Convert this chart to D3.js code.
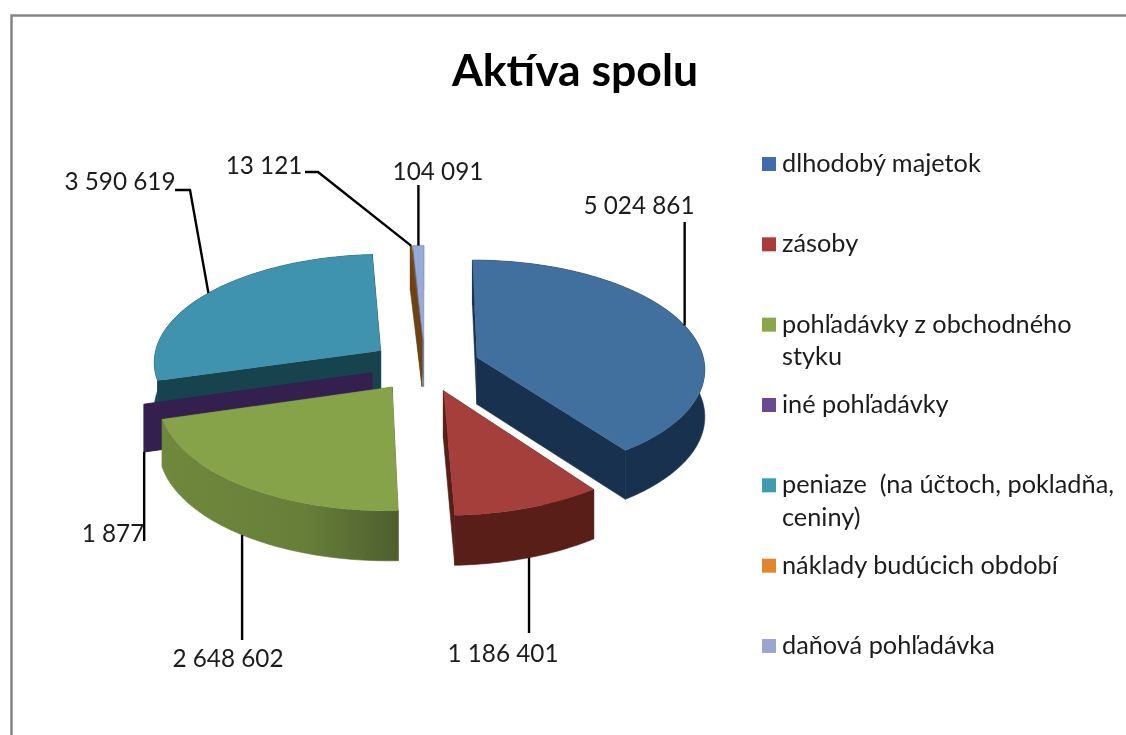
<!DOCTYPE html>
<html>
<head>
<meta charset="utf-8">
<script src="https://cdn.jsdelivr.net/npm/d3@7"></script>
<style>
  html, body { margin: 0; padding: 0; background: #fff; }
  svg { display: block; filter: blur(0.45px); }
  text { font-family: Lato, sans-serif; fill: #1c1c1c; white-space: pre; }
</style>
</head>
<body>
<div id="chart"></div>
<script>
// data
var categories = ["dlhodobý majetok", "zásoby", "pohľadávky z obchodného styku", "iné pohľadávky",
  "peniaze  (na účtoch, pokladňa, ceniny)", "náklady budúcich období", "daňová pohľadávka"];
var values = [5024861, 1186401, 2648602, 1877, 3590619, 13121, 104091];
var valueLabels = ["5 024 861", "1 186 401", "2 648 602", "1 877", "3 590 619", "13 121", "104 091"];
var legendLines = [["dlhodobý majetok"], ["zásoby"], ["pohľadávky z obchodného", "styku"], ["iné pohľadávky"],
  ["peniaze  (na účtoch, pokladňa,", "ceniny)"], ["náklady budúcich období"], ["daňová pohľadávka"]];

var topColors = ["#41709f", "#a43f3c", "#87a34a", "#5f3f86", "#3f93ae", "#7d4f17", "#98aad6"];
var wallColors = ["#18314f", "#5a1e18", "#5f7535", "#33204f", "#17434f", "#6e4212", "#6f83ad"];
var legendColors = ["#3f6cae", "#aa3c3a", "#8aa64a", "#6a4a94", "#3b9cb2", "#e0862f", "#98a6d0"];

// label text centres and the leader's far end, by category
var labelX = [639, 503, 228, 113, 120, 264, 438];
var labelY = [205, 653, 658, 533, 181, 165, 171];
var leaderEnds = [[null, 222], [null, 633], [null, 640], [null, 541], [175, 190, 190, 190], [305, 172, 318, 172], [null, 185]];

var width = 1126, height = 735;
var cx = 425, cy = 365.5, depth = 47, explode = 0.241, persp = 0.094;

var xScale = d3.scaleLinear().domain([0, 1]).range([0, 228]);
var yScale = d3.scaleLinear().domain([0, 1]).range([0, 108]);
var legendY = d3.scalePoint().domain(categories).range([164, 646]);

var slices = d3.pie().sort(null)(values);
slices.forEach(function(d, i) { d.index = i; d.mid = (d.startAngle + d.endAngle) / 2; });

// pie plane -> screen, r in radius units, z 0 = top face, 1 = bottom
function project(d, angle, r, z) {
  var X = r * Math.sin(angle) + explode * Math.sin(d.mid);
  var Y = -r * Math.cos(angle) - explode * Math.cos(d.mid);
  var s = 1 / (1 - persp * Y);
  return [cx + xScale(X) * s, cy + yScale(Y) * s + depth * Math.sqrt(s) * z];
}

function arcPoints(d, z) {
  var n = Math.max(2, Math.ceil((d.endAngle - d.startAngle) / 0.02));
  return d3.range(n + 1).map(function(i) {
    return project(d, d.startAngle + (d.endAngle - d.startAngle) * i / n, 1, z);
  });
}

var line = d3.line();

var svg = d3.select("#chart").append("svg")
  .attr("width", width)
  .attr("height", height);

var defs = svg.append("defs");
var greenWall = defs.append("linearGradient").attr("id", "greenWall");
greenWall.append("stop").attr("offset", "0%").attr("stop-color", "#6f883c");
greenWall.append("stop").attr("offset", "60%").attr("stop-color", "#677f39");
greenWall.append("stop").attr("offset", "100%").attr("stop-color", "#4e5f2e");

// frame
svg.append("path")
  .attr("d", line([[11.5, height], [11.5, 15.5], [width, 15.5]]))
  .attr("fill", "none")
  .attr("stroke", "#858585")
  .attr("stroke-width", 2.5);

svg.append("text")
  .attr("x", 575)
  .attr("y", 86)
  .attr("text-anchor", "middle")
  .attr("font-size", 44.5)
  .attr("font-weight", 700)
  .style("fill", "#000")
  .text("Aktíva spolu");

// back to front
var order = [6, 5, 4, 3, 0, 1, 2];
var pie = svg.append("g");

order.forEach(function(i) {
  var d = slices[i];
  var g = pie.append("g").attr("class", "slice");
  var wall = i === 2 ? "url(#greenWall)" : wallColors[i];

  [d.startAngle, d.endAngle].forEach(function(a) {
    g.append("path")
      .attr("d", line([project(d, a, 0, 0), project(d, a, 1, 0), project(d, a, 1, 1), project(d, a, 0, 1)]) + "Z")
      .attr("fill", wallColors[i])
      .attr("stroke", wallColors[i])
      .attr("stroke-width", 0.6);
  });

  g.append("path")
    .attr("d", line(arcPoints(d, 0).concat(arcPoints(d, 1).reverse())) + "Z")
    .attr("fill", wall)
    .attr("stroke", wall)
    .attr("stroke-width", 0.6);

  g.append("path")
    .attr("d", line([project(d, d.mid, 0, 0)].concat(arcPoints(d, 0))) + "Z")
    .attr("fill", topColors[i]);
});

// leaders go to the mid angle of each slice, bottom edge for the front ones
var leaders = svg.append("g");
slices.forEach(function(d, i) {
  var front = Math.cos(d.mid) < 0;
  var anchor = project(d, d.mid, 1, front ? 1 : 0);
  var e = leaderEnds[i];
  var pts = e[0] === null ? [[anchor[0], e[1]], anchor] : [[e[0], e[1]], [e[2], e[3]], anchor];
  leaders.append("path")
    .attr("d", line(pts))
    .attr("fill", "none")
    .attr("stroke", "#000")
    .attr("stroke-width", 2.4);
});

svg.append("g").selectAll("text")
  .data(valueLabels)
  .enter().append("text")
  .attr("x", function(d, i) { return labelX[i]; })
  .attr("y", function(d, i) { return labelY[i]; })
  .attr("text-anchor", "middle")
  .attr("dy", "0.35em")
  .attr("font-size", 24.3)
  .text(function(d) { return d; });

// legend
var legend = svg.append("g").selectAll("g")
  .data(categories)
  .enter().append("g")
  .attr("transform", function(d) { return "translate(762," + legendY(d) + ")"; });

legend.append("rect")
  .attr("y", -7)
  .attr("width", 14)
  .attr("height", 14)
  .attr("fill", function(d, i) { return legendColors[i]; });

legend.each(function(d, i) {
  d3.select(this).selectAll("text")
    .data(legendLines[i])
    .enter().append("text")
    .attr("x", 20)
    .attr("y", function(t, j) { return j * 32.5; })
    .attr("dy", "0.32em")
    .attr("font-size", 25.3)
    .text(function(t) { return t; });
});
</script>
</body>
</html>
